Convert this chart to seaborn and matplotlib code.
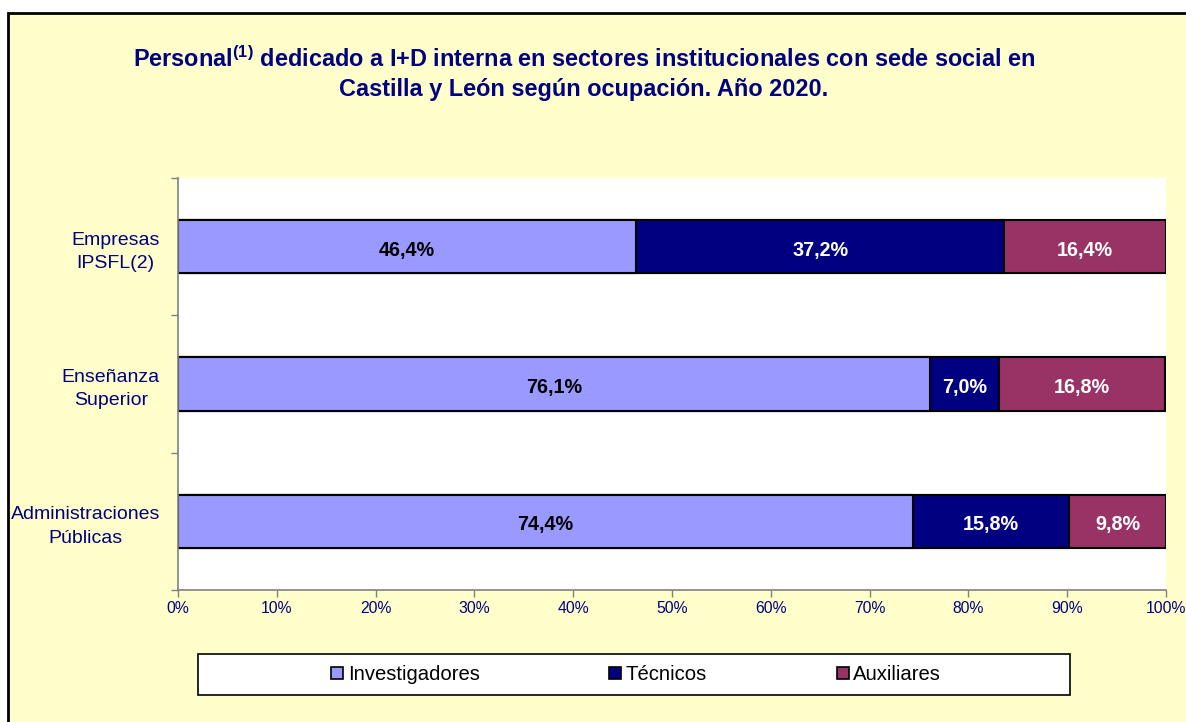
import numpy as np
import pandas as pd
import seaborn as sns
import matplotlib.pyplot as plt
from matplotlib.patches import Rectangle
from matplotlib.lines import Line2D

# Datos del gráfico
sectores = ['Empresas\nIPSFL(2)', 'Enseñanza\nSuperior', 'Administraciones\nPúblicas']
ocupaciones = ['Investigadores', 'Técnicos', 'Auxiliares']
investigadores = [46.4, 76.1, 74.4]
tecnicos = [37.2, 7.0, 15.8]
auxiliares = [16.4, 16.8, 9.8]

colores = ['#9999FF', '#000080', '#993366']
colores_texto = ['black', 'white', 'white']
navy = '#000080'

sns.set_theme(style='white')
plt.rcParams['font.family'] = ['Liberation Sans', 'DejaVu Sans']
plt.rcParams['mathtext.fontset'] = 'custom'
plt.rcParams['mathtext.rm'] = 'Liberation Sans:bold'
plt.rcParams['mathtext.it'] = 'Liberation Sans:bold'
plt.rcParams['mathtext.bf'] = 'Liberation Sans:bold'

df = pd.DataFrame({
    'sector': sectores,
    'Investigadores': investigadores,
    'Técnicos': tecnicos,
    'Auxiliares': auxiliares,
})
series = [df['Investigadores'], df['Técnicos'], df['Auxiliares']]
acumulado = np.cumsum(np.array(series), axis=0)

fig = plt.figure(figsize=(11.86, 7.22), dpi=100, facecolor='white')
# fondo amarillo del gráfico
fig.patches.append(Rectangle((8 / 1186, -0.2), 1.2, 1.2 - 13 / 722,
                             transform=fig.transFigure, facecolor='#FFFFCC',
                             edgecolor='black', linewidth=2, zorder=-10))

ax = fig.add_axes([178 / 1186, 1 - 590 / 722, 988 / 1186, 412 / 722])
ax.set_facecolor('white')

# barras apiladas: se dibujan los acumulados de mayor a menor
for i in reversed(range(3)):
    d = pd.DataFrame({'sector': sectores, 'valor': acumulado[i]})
    sns.barplot(data=d, x='valor', y='sector', orient='h', color=colores[i],
                saturation=1, width=0.39, edgecolor='black', linewidth=1.5,
                ax=ax)

# etiquetas de datos
for j in range(3):
    izq = 0
    for i in range(3):
        v = series[i].iloc[j]
        txt = f"{v:.1f}".replace('.', ',') + '%'
        ax.text(izq + v / 2, j + 0.025, txt, ha='center', va='center',
                fontsize=14.2, fontweight='bold', color=colores_texto[i])
        izq += v

ax.set_xlim(0, 100)
ax.set_ylim(2.5, -0.5)
ax.set_xlabel('')
ax.set_ylabel('')
ax.set_xticks(np.arange(0, 101, 10))
ax.set_xticklabels([f'{t}%' for t in range(0, 101, 10)])
ax.set_yticks([0, 1, 2])
ax.set_yticklabels(sectores, multialignment='center', linespacing=1.5)
ax.set_yticks([-0.5, 0.5, 1.5, 2.5], minor=True)

for s in ['top', 'right']:
    ax.spines[s].set_visible(False)
for s in ['left', 'bottom']:
    ax.spines[s].set_color('#808080')
    ax.spines[s].set_linewidth(1.2)

ax.tick_params(axis='x', which='major', direction='out', length=5, width=1,
               color='#808080', labelsize=11.3, labelcolor=navy, pad=3,
               bottom=True)
ax.tick_params(axis='y', which='major', length=0, labelsize=14,
               labelcolor=navy, pad=13)
ax.tick_params(axis='y', which='minor', direction='out', length=5, width=1,
               color='#808080', left=True)

# título
fig.text(584 / 1186, 1 - 73.5 / 722,
         'Personal$^{(1)}$ dedicado a I+D interna en sectores institucionales con sede social en\n'
         'Castilla y León según ocupación. Año 2020.',
         ha='center', va='center', fontsize=16.9, fontweight='bold', color=navy,
         linespacing=1.35)

# leyenda
fig.patches.append(Rectangle((198 / 1186, 1 - 695 / 722), 872 / 1186, 41 / 722,
                             transform=fig.transFigure, facecolor='white',
                             edgecolor='black', linewidth=1.2, zorder=1))
handles = [Line2D([], [], marker='s', linestyle='none', markersize=8,
                  markerfacecolor=c, markeredgecolor='black', markeredgewidth=1.2)
           for c in colores]
leg = fig.legend(handles, ocupaciones, loc='center', ncol=3,
                 bbox_to_anchor=(634 / 1186, 1 - 674.5 / 722), frameon=False,
                 fontsize=14.6, handletextpad=0.0, columnspacing=6.2,
                 handlelength=1.0, borderaxespad=0)
for t in leg.get_texts():
    t.set_color('black')

fig.savefig('out.png', dpi=100, facecolor='white')
